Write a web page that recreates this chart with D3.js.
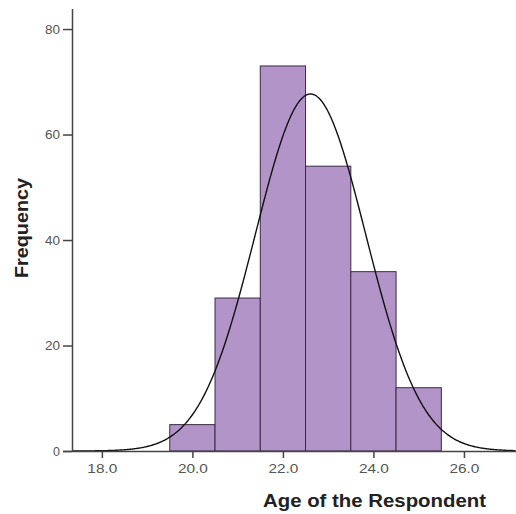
<!DOCTYPE html>
<html>
<head>
<meta charset="utf-8">
<script src="https://cdn.jsdelivr.net/npm/d3@7"></script>
<style>
  body { margin: 0; background: #fff; }
  svg { display: block; font-family: Arial, "Liberation Sans", sans-serif; }
</style>
</head>
<body>
<svg id="chart" width="516" height="514"></svg>
<script>
// Histogram bins (age, 1-year wide) and counts
const binStarts = [19.5, 20.5, 21.5, 22.5, 23.5, 24.5];
const binWidth = 1;
const counts = [5, 29, 73, 54, 34, 12];

// Normal curve parameters
const curveMean = 22.61;
const curveSd = 1.22;
const totalN = 207;

const xTicks = [18, 20, 22, 24, 26];
const yTicks = [0, 20, 40, 60, 80];

const svg = d3.select('#chart');

// Scales
const x = d3.scaleLinear().domain([17.34, 27.15]).range([72, 516]);
const y = d3.scaleLinear().domain([0, 83.8]).range([451, 9]);

// Bars
svg.selectAll('rect.bar')
    .data(binStarts)
    .enter()
    .append('rect')
    .attr('class', 'bar')
    .attr('x', d => x(d))
    .attr('width', d => x(d + binWidth) - x(d))
    .attr('y', (d, i) => y(counts[i]))
    .attr('height', (d, i) => y(0) - y(counts[i]))
    .attr('fill', '#b294c8')
    .attr('stroke', '#3b2a44')
    .attr('stroke-width', 1);

// Normal curve
const curvePts = d3.range(x.domain()[0], x.domain()[1] + 0.01, 0.02).map(v => {
    const z = (v - curveMean) / curveSd;
    const dens = Math.exp(-0.5 * z * z) / (curveSd * Math.sqrt(2 * Math.PI));
    return [v, dens * totalN * binWidth];
});

svg.append('path')
    .datum(curvePts)
    .attr('fill', 'none')
    .attr('stroke', '#111')
    .attr('stroke-width', 1.4)
    .attr('d', d3.line().x(d => x(d[0])).y(d => y(d[1])).curve(d3.curveBasis));

// X axis
const xAxis = svg.append('g')
    .attr('transform', `translate(0,${y(0)})`)
    .call(d3.axisBottom(x).tickValues(xTicks).tickSize(7).tickPadding(6).tickFormat(d3.format('.1f')));
xAxis.select('.domain').attr('d', `M63,0.5H516`).attr('stroke', '#444').attr('stroke-width', 1.5);
xAxis.selectAll('.tick line').attr('stroke', '#444').attr('stroke-width', 1.5);
xAxis.selectAll('.tick text')
    .attr('fill', '#555')
    .attr('font-size', 12.5)
    .attr('font-family', 'Arial, "Liberation Sans", sans-serif')
    .attr('textLength', 30)
    .attr('lengthAdjust', 'spacingAndGlyphs');

// Y axis
const yAxis = svg.append('g')
    .attr('transform', `translate(72,0)`)
    .call(d3.axisLeft(y).tickValues(yTicks).tickSize(9).tickPadding(3));
yAxis.select('.domain').attr('d', `M0.5,${y(0)}V9`).attr('stroke', '#444').attr('stroke-width', 1.5);
yAxis.selectAll('.tick line').attr('stroke', '#444').attr('stroke-width', 1.5);
yAxis.selectAll('.tick text')
    .attr('fill', '#555')
    .attr('font-size', 12.5)
    .attr('font-family', 'Arial, "Liberation Sans", sans-serif')
    .each(function(d) {
        if (d >= 10) d3.select(this).attr('textLength', 15).attr('lengthAdjust', 'spacingAndGlyphs');
    });

// Axis titles
svg.append('text')
    .attr('x', 374.5)
    .attr('y', 507)
    .attr('text-anchor', 'middle')
    .attr('font-size', 18)
    .attr('font-weight', 'bold')
    .attr('fill', '#222')
    .attr('textLength', 223)
    .attr('lengthAdjust', 'spacingAndGlyphs')
    .text('Age of the Respondent');

svg.append('text')
    .attr('transform', 'translate(28,228) rotate(-90)')
    .attr('text-anchor', 'middle')
    .attr('font-size', 18)
    .attr('font-weight', 'bold')
    .attr('fill', '#222')
    .attr('textLength', 100)
    .attr('lengthAdjust', 'spacingAndGlyphs')
    .text('Frequency');
</script>
</body>
</html>
